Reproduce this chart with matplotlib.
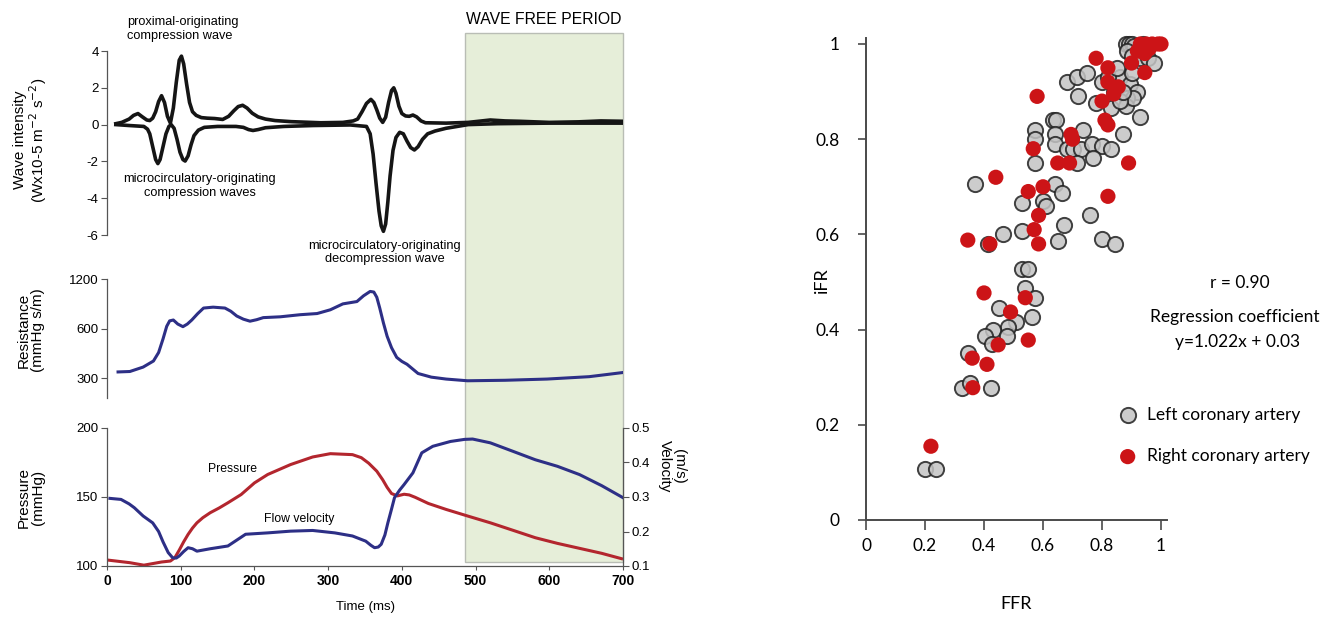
import matplotlib
matplotlib.use('Agg')
import matplotlib.pyplot as plt
from matplotlib.patches import Rectangle
from matplotlib.transforms import blended_transform_factory

plt.rcParams['axes.unicode_minus'] = False
LF = ['Liberation Sans', 'DejaVu Sans']
RF = ['Lato', 'DejaVu Sans']
plt.rcParams['font.family'] = LF

# ---------------- data: left figure ----------------
wi_up_t = [12, 20, 30, 36, 42, 48, 54, 58, 62, 66, 70, 74, 78, 82, 86, 90, 94, 98, 101, 104,
           108, 112, 116, 121, 128, 136, 146, 157, 165, 172, 178, 184, 190, 197, 205, 215, 228,
           250, 290, 320, 334, 340, 346, 352, 358, 362, 366, 370, 374, 378, 382, 386, 389, 392,
           396, 400, 405, 410, 415, 420, 426, 432, 460, 490, 520, 540, 560, 600, 640, 670, 700]
wi_up_v = [0.05, 0.12, 0.3, 0.5, 0.6, 0.42, 0.25, 0.22, 0.35, 0.7, 1.25, 1.57, 1.2, 0.45, 0.08,
           0.9, 2.3, 3.5, 3.72, 3.3, 2.2, 1.2, 0.7, 0.5, 0.38, 0.35, 0.33, 0.28, 0.45, 0.75, 0.98,
           1.05, 0.9, 0.62, 0.42, 0.3, 0.22, 0.16, 0.1, 0.12, 0.2, 0.3, 0.7, 1.15, 1.37, 1.2, 0.8,
           0.35, 0.12, 0.4, 1.2, 1.85, 2.0, 1.7, 1.0, 0.6, 0.47, 0.45, 0.52, 0.42, 0.2, 0.1, 0.08,
           0.12, 0.25, 0.2, 0.18, 0.12, 0.15, 0.2, 0.18]
wi_dn_t = [12, 30, 50, 55, 58, 62, 66, 69, 72, 76, 80, 84, 87, 91, 95, 99, 103, 106, 110, 114,
           118, 124, 132, 150, 175, 185, 192, 198, 205, 215, 240, 280, 330, 352, 357, 361, 365,
           369, 372, 375, 378, 381, 384, 388, 392, 397, 402, 407, 412, 417, 422, 428, 435, 445,
           460, 490, 530, 600, 700]
wi_dn_v = [0.0, -0.05, -0.1, -0.25, -0.5, -1.2, -1.9, -2.12, -1.9, -1.2, -0.5, -0.1, 0.0, -0.2,
           -0.8, -1.5, -1.9, -1.98, -1.7, -1.1, -0.6, -0.3, -0.15, -0.1, -0.1, -0.15, -0.27,
           -0.32, -0.27, -0.17, -0.1, -0.05, -0.02, -0.1, -0.5, -1.6, -3.2, -4.7, -5.5, -5.8,
           -5.4, -4.2, -2.8, -1.4, -0.7, -0.42, -0.5, -0.9, -1.25, -1.38, -1.2, -0.8, -0.5,
           -0.35, -0.2, 0.0, 0.05, 0.08, 0.08]

res_t = [15, 31, 49, 63, 70, 76, 81, 85, 90, 96, 103, 109, 115, 123, 131, 144, 160, 168, 176,
         185, 194, 203, 212, 235, 262, 285, 303, 320, 339, 348, 357, 362, 366, 370, 375, 380,
         386, 393, 400, 407, 422, 440, 460, 489, 540, 597, 654, 677, 699]
res_v = [328, 330, 351, 382, 430, 520, 620, 669, 677, 640, 617, 640, 677, 740, 800, 810, 800,
         765, 716, 685, 666, 680, 700, 708, 729, 741, 781, 848, 876, 949, 1009, 1000, 930, 800,
         650, 540, 460, 402, 380, 365, 321, 305, 297, 290, 292, 297, 307, 316, 325]

pr_t = [1, 31, 50, 74, 86, 92, 98, 104, 110, 116, 122, 130, 140, 152, 164, 182, 200, 218, 249,
        279, 303, 333, 345, 355, 366, 374, 380, 386, 394, 403, 410, 418, 436, 460, 490, 520, 550,
        581, 611, 641, 671, 698]
pr_v = [104.3, 102.4, 100.6, 102.9, 103.6, 106.0, 111.5, 117.5, 122.9, 127.5, 131.3, 135.0,
        138.6, 142.0, 145.8, 151.8, 160.2, 166.3, 173.5, 179.0, 181.4, 180.7, 178.5, 174.5,
        168.7, 162.5, 157.0, 152.5, 150.8, 152.0, 151.5, 149.8, 145.3, 141.0, 136.1, 131.3,
        126.0, 120.5, 116.4, 112.8, 109.2, 105.3]

vel_t = [4, 19, 30, 37, 49, 62, 70, 76, 83, 89, 94, 98, 104, 110, 116, 122, 140, 164, 176, 188,
         218, 249, 279, 309, 333, 351, 358, 363, 368, 372, 377, 381, 386, 390, 397, 403, 415,
         427, 442, 466, 485, 496, 520, 550, 581, 611, 641, 671, 700]
vel_v = [0.296, 0.293, 0.28, 0.269, 0.245, 0.225, 0.2, 0.17, 0.139, 0.124, 0.123, 0.129, 0.142,
         0.153, 0.15, 0.143, 0.150, 0.158, 0.175, 0.192, 0.196, 0.201, 0.203, 0.196, 0.187,
         0.172, 0.16, 0.153, 0.155, 0.163, 0.19, 0.225, 0.265, 0.298, 0.32, 0.336, 0.370, 0.428,
         0.447, 0.461, 0.467, 0.468, 0.457, 0.433, 0.408, 0.389, 0.365, 0.333, 0.298]

time_ticks = [0, 100, 200, 300, 400, 500, 600, 700]
wi_ticks = [-6, -4, -2, 0, 2, 4]
res_ticks = [300, 600, 1200]
pr_ticks = [100, 150, 200]
vel_ticks = [0.1, 0.2, 0.3, 0.4, 0.5]
wfp_start, wfp_end = 486, 700

# ---------------- data: scatter ----------------
left_ffr = [0.88, 0.89, 0.90, 0.91, 0.885, 0.90, 0.93, 0.955, 0.975, 0.94,
            0.68, 0.715, 0.75, 0.72, 0.80, 0.86, 0.895, 0.92, 0.885, 0.78, 0.83, 0.88, 0.905,
            0.93, 0.87, 0.84, 0.86, 0.87, 0.90, 0.82, 0.85,
            0.635, 0.645, 0.573, 0.573, 0.573, 0.64, 0.735, 0.64, 0.68, 0.70, 0.73, 0.765,
            0.80, 0.83, 0.77, 0.715, 0.37, 0.64, 0.665, 0.53, 0.60, 0.61, 0.76, 0.67, 0.53,
            0.65, 0.415, 0.465, 0.53, 0.55, 0.54, 0.573, 0.45, 0.51, 0.563, 0.48, 0.43, 0.405,
            0.478, 0.427, 0.345, 0.325, 0.352, 0.423, 0.20, 0.237, 0.80, 0.845]
left_ifr = [1.0, 1.0, 1.0, 0.995, 0.985, 0.975, 0.97, 0.97, 0.96, 1.0,
            0.92, 0.93, 0.94, 0.89, 0.92, 0.93, 0.915, 0.90, 0.887, 0.876, 0.866, 0.87, 0.887,
            0.847, 0.81, 0.90, 0.88, 0.90, 0.94, 0.93, 0.95,
            0.84, 0.84, 0.82, 0.80, 0.75, 0.81, 0.82, 0.79, 0.78, 0.78, 0.78, 0.79,
            0.785, 0.78, 0.76, 0.75, 0.705, 0.705, 0.687, 0.666, 0.67, 0.66, 0.64, 0.62, 0.607,
            0.586, 0.58, 0.60, 0.527, 0.527, 0.487, 0.466, 0.445, 0.416, 0.427, 0.405, 0.40,
            0.387, 0.387, 0.37, 0.35, 0.277, 0.288, 0.277, 0.107, 0.107, 0.59, 0.58]
right_ffr = [0.93, 0.95, 0.97, 0.99, 1.0, 0.96, 0.945, 0.92,
             0.78, 0.82, 0.90, 0.945, 0.82, 0.855, 0.84, 0.80, 0.81, 0.82, 0.58, 0.567, 0.70,
             0.695, 0.65, 0.69, 0.89, 0.44, 0.55, 0.60, 0.82, 0.585, 0.57, 0.585, 0.345, 0.42,
             0.40, 0.54, 0.49, 0.448, 0.55, 0.36, 0.41, 0.362, 0.22]
right_ifr = [1.0, 1.0, 1.0, 1.0, 1.0, 0.99, 0.98, 0.985,
             0.97, 0.95, 0.96, 0.94, 0.92, 0.91, 0.895, 0.88, 0.84, 0.83, 0.89, 0.78, 0.80,
             0.81, 0.75, 0.75, 0.75, 0.72, 0.69, 0.70, 0.68, 0.64, 0.61, 0.58, 0.588, 0.58,
             0.477, 0.467, 0.437, 0.368, 0.378, 0.34, 0.327, 0.278, 0.155]
sc_ticks = [0, 0.2, 0.4, 0.6, 0.8, 1]
sc_ticklabels = ['0', '0.2', '0.4', '0.6', '0.8', '1']

# ---------------- figure ----------------
W, H = 1330, 619
fig = plt.figure(figsize=(W / 100, H / 100), dpi=100)


def rect(l, t, r, b):
    return [l / W, 1 - b / H, (r - l) / W, (b - t) / H]


SP = '#555555'
BLUE = '#2d2f86'
RED = '#b3262e'


def style_left(ax, show_x=False):
    ax.set_facecolor('none')
    for s in ['top', 'right', 'bottom']:
        ax.spines[s].set_visible(False)
    ax.spines['left'].set_color(SP)
    ax.spines['left'].set_linewidth(0.9)
    ax.tick_params(axis='y', direction='out', length=4, width=0.8, color=SP,
                   labelsize=9.5, pad=2)
    ax.set_xlim(0, 700)
    if not show_x:
        ax.set_xticks([])


ax1 = fig.add_axes(rect(107, 51, 623, 235))
style_left(ax1)
ax1.plot(wi_up_t, wi_up_v, color='#151515', lw=2.6, solid_joinstyle='round')
ax1.plot(wi_dn_t, wi_dn_v, color='#151515', lw=2.6, solid_joinstyle='round')
ax1.set_ylim(-6, 4)
ax1.set_yticks(wi_ticks)

ax2 = fig.add_axes(rect(107, 279, 623, 398))
style_left(ax2)
ax2.set_yscale('log')
ax2.plot(res_t, res_v, color=BLUE, lw=2.2, solid_joinstyle='round')
ax2.set_ylim(228, 1200)
ax2.set_yticks(res_ticks)
ax2.set_yticklabels([str(v) for v in res_ticks])
ax2.minorticks_off()

ax3 = fig.add_axes(rect(107, 428, 623, 566))
style_left(ax3, show_x=True)
ax3.spines['bottom'].set_visible(True)
ax3.spines['bottom'].set_color(SP)
ax3.spines['bottom'].set_linewidth(0.9)
ax3.plot(pr_t, pr_v, color=RED, lw=2.2, solid_joinstyle='round')
ax3.set_ylim(100, 200)
ax3.set_yticks(pr_ticks)
ax3.set_xticks(time_ticks)
ax3.tick_params(axis='x', direction='out', length=3, width=0.8, color=SP, labelsize=10, pad=3)
for l in ax3.get_xticklabels():
    l.set_fontweight('bold')
ax3b = ax3.twinx()
ax3b.set_facecolor('none')
for s in ['top', 'left', 'bottom']:
    ax3b.spines[s].set_visible(False)
ax3b.spines['right'].set_color(SP)
ax3b.spines['right'].set_linewidth(0.9)
ax3b.plot(vel_t, vel_v, color=BLUE, lw=2.2, solid_joinstyle='round')
ax3b.set_ylim(0.1, 0.5)
ax3b.set_yticks(vel_ticks)
ax3b.tick_params(axis='y', direction='out', length=4, width=0.8, color=SP, labelsize=9.5, pad=2)
ax3b.set_xlim(0, 700)

# wave free period band
trans = blended_transform_factory(ax3.transData, fig.transFigure)
band = Rectangle((wfp_start, 1 - 562 / H), wfp_end - wfp_start, (562 - 33) / H,
                 transform=trans, facecolor='#e6eed9', edgecolor='#b9bdb5', lw=1.0, zorder=-1)
fig.add_artist(band)
ax1.text((wfp_start + wfp_end) / 2, 1 - 20 / H, 'WAVE FREE PERIOD', transform=trans,
         ha='center', va='center', fontsize=11.3)

# annotations
ax1.text(27, 5.2, 'proximal-originating\ncompression wave', ha='left', va='center',
         fontsize=9.2, linespacing=1.2)
ax1.text(126, -3.35, 'microcirculatory-originating\ncompression waves', ha='center',
         va='center', fontsize=9.2, linespacing=1.2)
ax1.text(377, -6.95, 'microcirculatory-originating\ndecompression wave', ha='center',
         va='center', fontsize=9.2, linespacing=1.2)
ax3.text(170, 170, 'Pressure', ha='center', va='center', fontsize=8.8)
ax3.text(261, 134, 'Flow velocity', ha='center', va='center', fontsize=8.8)

fig.text(31 / W, 1 - 140 / H, 'Wave intensity\n(Wx10-5 m$^{-2}$ s$^{-2}$)', rotation=90,
         ha='center', va='center', fontsize=11, linespacing=1.0)
fig.text(31 / W, 1 - 330 / H, 'Resistance\n(mmHg s/m)', rotation=90,
         ha='center', va='center', fontsize=11, linespacing=1.0)
fig.text(31 / W, 1 - 497 / H, 'Pressure\n(mmHg)', rotation=90,
         ha='center', va='center', fontsize=11, linespacing=1.0)
fig.text(672 / W, 1 - 466 / H, '(m/s)\nVelocity', rotation=270,
         ha='center', va='center', fontsize=11, linespacing=1.0)
fig.text(366 / W, 1 - 607 / H, 'Time (ms)', ha='center', va='center', fontsize=9.5)

# ---------------- scatter ----------------
ax4 = fig.add_axes(rect(866, 38, 1167, 520))
ax4.set_facecolor('none')
for s in ['top', 'right']:
    ax4.spines[s].set_visible(False)
for s in ['left', 'bottom']:
    ax4.spines[s].set_color('#4a4a4a')
    ax4.spines[s].set_linewidth(1.4)
sL = ax4.scatter(left_ffr, left_ifr, s=120, facecolor='#c4c4c4', edgecolor='#222222',
                 linewidth=1.4, alpha=0.85, clip_on=False, zorder=3, label='Left coronary artery')
sR = ax4.scatter(right_ffr, right_ifr, s=120, facecolor='#cc1417', edgecolor='none',
                 clip_on=False, zorder=4, label='Right coronary artery')
ax4.set_xlim(0, 1.0203)
ax4.set_ylim(0, 1.0126)
ax4.set_xticks(sc_ticks)
ax4.set_xticklabels(sc_ticklabels)
ax4.set_yticks(sc_ticks)
ax4.set_yticklabels(sc_ticklabels)
ax4.tick_params(axis='x', direction='out', length=7, width=1.2, color='#4a4a4a',
                labelsize=12.5, pad=6)
ax4.tick_params(axis='y', direction='out', length=6, width=1.2, color='#4a4a4a',
                labelsize=12.5, pad=13)
for l in ax4.get_xticklabels() + ax4.get_yticklabels():
    l.set_fontfamily(RF)
fig.text(822 / W, 1 - 280 / H, 'iFR', rotation=90, ha='center', va='center', fontsize=13,
         family=RF)
fig.text(1016 / W, 1 - 604 / H, 'FFR', ha='center', va='center', fontsize=13, family=RF)
fig.text(1240 / W, 1 - 283 / H, 'r = 0.90', ha='center', va='center', fontsize=12.5, family=RF)
fig.text(1235 / W, 1 - 317 / H, 'Regression coefficient', ha='center', va='center',
         fontsize=12.5, family=RF)
fig.text(1238 / W, 1 - 342 / H, 'y=1.022x + 0.03', ha='center', va='center', fontsize=12.5,
         family=RF)
leg = fig.legend(handles=[sL, sR], loc='upper left',
                 bbox_to_anchor=(1119 / W, 1 - 407 / H), frameon=False, borderpad=0,
                 borderaxespad=0, handlelength=1.0, handletextpad=0.6, labelspacing=1.45,
                 prop={'family': RF, 'size': 12.5})

fig.savefig('out.png', dpi=100)
